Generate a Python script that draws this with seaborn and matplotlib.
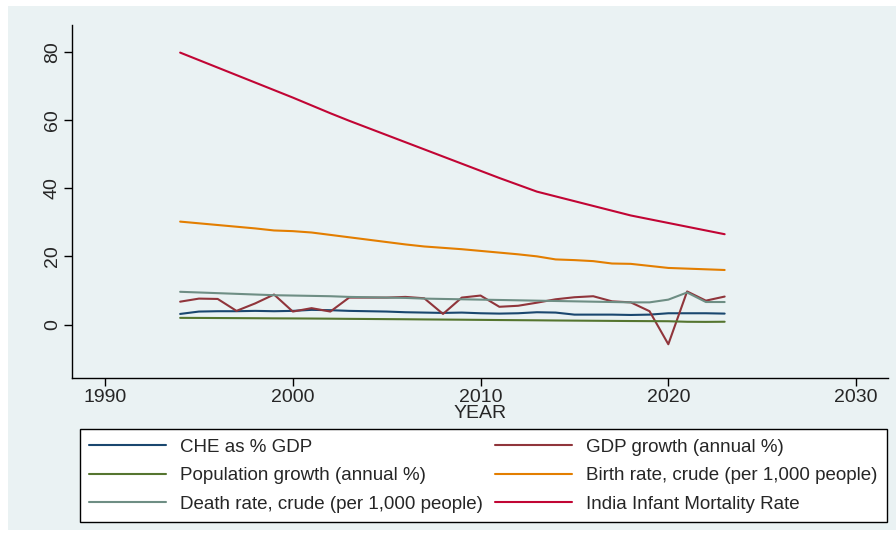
import matplotlib.pyplot as plt
import matplotlib.patches as mpatches
import numpy as np
import pandas as pd
import seaborn as sns

YEARS = list(range(1994, 2024))

CHE = [3.1, 3.8, 3.9, 3.9, 4.0, 3.9, 4.0, 4.3, 4.2, 4.0,
       3.9, 3.8, 3.6, 3.5, 3.4, 3.5, 3.3, 3.2, 3.3, 3.6,
       3.5, 2.9, 2.9, 2.9, 2.8, 2.9, 3.3, 3.3, 3.3, 3.2]
GDP_GROWTH = [6.7, 7.6, 7.5, 4.0, 6.2, 8.8, 3.8, 4.8, 3.8, 7.9,
              7.9, 7.9, 8.1, 7.7, 3.1, 7.9, 8.5, 5.2, 5.5, 6.4,
              7.4, 8.0, 8.3, 6.8, 6.5, 3.9, -5.8, 9.7, 7.0, 8.2]
POP_GROWTH = [1.95, 1.93, 1.90, 1.87, 1.84, 1.80, 1.78, 1.75, 1.71, 1.66,
              1.62, 1.58, 1.54, 1.49, 1.45, 1.41, 1.36, 1.31, 1.27, 1.23,
              1.18, 1.14, 1.10, 1.06, 1.02, 0.99, 0.96, 0.80, 0.77, 0.81]
BIRTH_RATE = [30.2, 29.7, 29.2, 28.7, 28.2, 27.6, 27.4, 27.0, 26.3, 25.6,
              24.9, 24.2, 23.5, 22.9, 22.5, 22.1, 21.6, 21.1, 20.6, 20.0,
              19.1, 18.9, 18.6, 17.9, 17.8, 17.2, 16.6, 16.4, 16.2, 16.0]
DEATH_RATE = [9.6, 9.4, 9.2, 9.0, 8.8, 8.6, 8.5, 8.4, 8.3, 8.1,
              8.0, 7.9, 7.8, 7.6, 7.5, 7.4, 7.3, 7.2, 7.1, 7.0,
              6.9, 6.8, 6.7, 6.6, 6.5, 6.5, 7.3, 9.4, 6.6, 6.6]
INFANT_MORTALITY = [79.8, 77.6, 75.4, 73.2, 71.0, 68.8, 66.6, 64.3, 62.0, 59.8,
                    57.7, 55.6, 53.5, 51.4, 49.3, 47.2, 45.1, 43.0, 41.0, 39.0,
                    37.6, 36.2, 34.8, 33.4, 32.0, 30.9, 29.8, 28.7, 27.6, 26.5]

SERIES = {
    'CHE as % GDP': CHE,
    'GDP growth (annual %)': GDP_GROWTH,
    'Population growth (annual %)': POP_GROWTH,
    'Birth rate, crude (per 1,000 people)': BIRTH_RATE,
    'Death rate, crude (per 1,000 people)': DEATH_RATE,
    'India Infant Mortality Rate': INFANT_MORTALITY,
}
COLORS = {
    'CHE as % GDP': '#1A476F',
    'GDP growth (annual %)': '#90353B',
    'Population growth (annual %)': '#55752F',
    'Birth rate, crude (per 1,000 people)': '#E37E00',
    'Death rate, crude (per 1,000 people)': '#6E8E84',
    'India Infant Mortality Rate': '#C10534',
}

df = pd.concat([pd.DataFrame({'year': YEARS, 'value': v, 'series': k})
                for k, v in SERIES.items()], ignore_index=True)

BG = '#EAF2F3'
sns.set_style('white')
plt.rcParams['font.family'] = ['Liberation Sans', 'DejaVu Sans']

fig = plt.figure(figsize=(8.96, 5.36), dpi=100, facecolor='white')
fig.patches.append(mpatches.Rectangle((8 / 896, 6 / 536), 1, 1 - 12 / 536,
                                      transform=fig.transFigure,
                                      facecolor=BG, edgecolor='none', zorder=-10))
ax = fig.add_axes([72 / 896, 1 - 378 / 536, (888 - 72) / 896, (378 - 25) / 536])
ax.set_facecolor(BG)

sns.lineplot(data=df, x='year', y='value', hue='series',
             hue_order=list(SERIES), palette=COLORS, linewidth=1.5, ax=ax,
             legend=False)

ax.set_xlim(1988.24, 2031.7)
ax.set_ylim(-15.7, 87.9)
ax.set_xticks([1990, 2000, 2010, 2020, 2030])
ax.set_yticks([0, 20, 40, 60, 80])
ax.tick_params(axis='both', direction='out', length=6, width=1, color='black',
               labelsize=14, bottom=True, left=True, pad=2)
for lab in ax.get_yticklabels():
    lab.set_rotation(90)
    lab.set_va('center')
for side in ['top', 'right']:
    ax.spines[side].set_visible(False)
for side in ['left', 'bottom']:
    ax.spines[side].set_color('black')
    ax.spines[side].set_linewidth(1)
ax.set_xlabel('YEAR', fontsize=14, labelpad=-1)
ax.set_ylabel('')

# legend order: column-major for two columns
order = ['CHE as % GDP', 'Population growth (annual %)',
         'Death rate, crude (per 1,000 people)', 'GDP growth (annual %)',
         'Birth rate, crude (per 1,000 people)', 'India Infant Mortality Rate']
handles = [plt.Line2D([], [], color=COLORS[k], linewidth=1.5) for k in order]
leg = fig.legend(handles, order, ncol=2, loc='lower left',
                 bbox_to_anchor=(80 / 896, 14 / 536, (887 - 80) / 896, 92 / 536),
                 mode='expand', fontsize=13.5, frameon=True, fancybox=False,
                 edgecolor='black', facecolor='white', framealpha=1,
                 handlelength=4.1, handletextpad=0.75, borderaxespad=0,
                 borderpad=0.5, labelspacing=0.6, columnspacing=1.0)
leg.get_frame().set_linewidth(1)

fig.savefig('out.png', dpi=100, facecolor='white')
